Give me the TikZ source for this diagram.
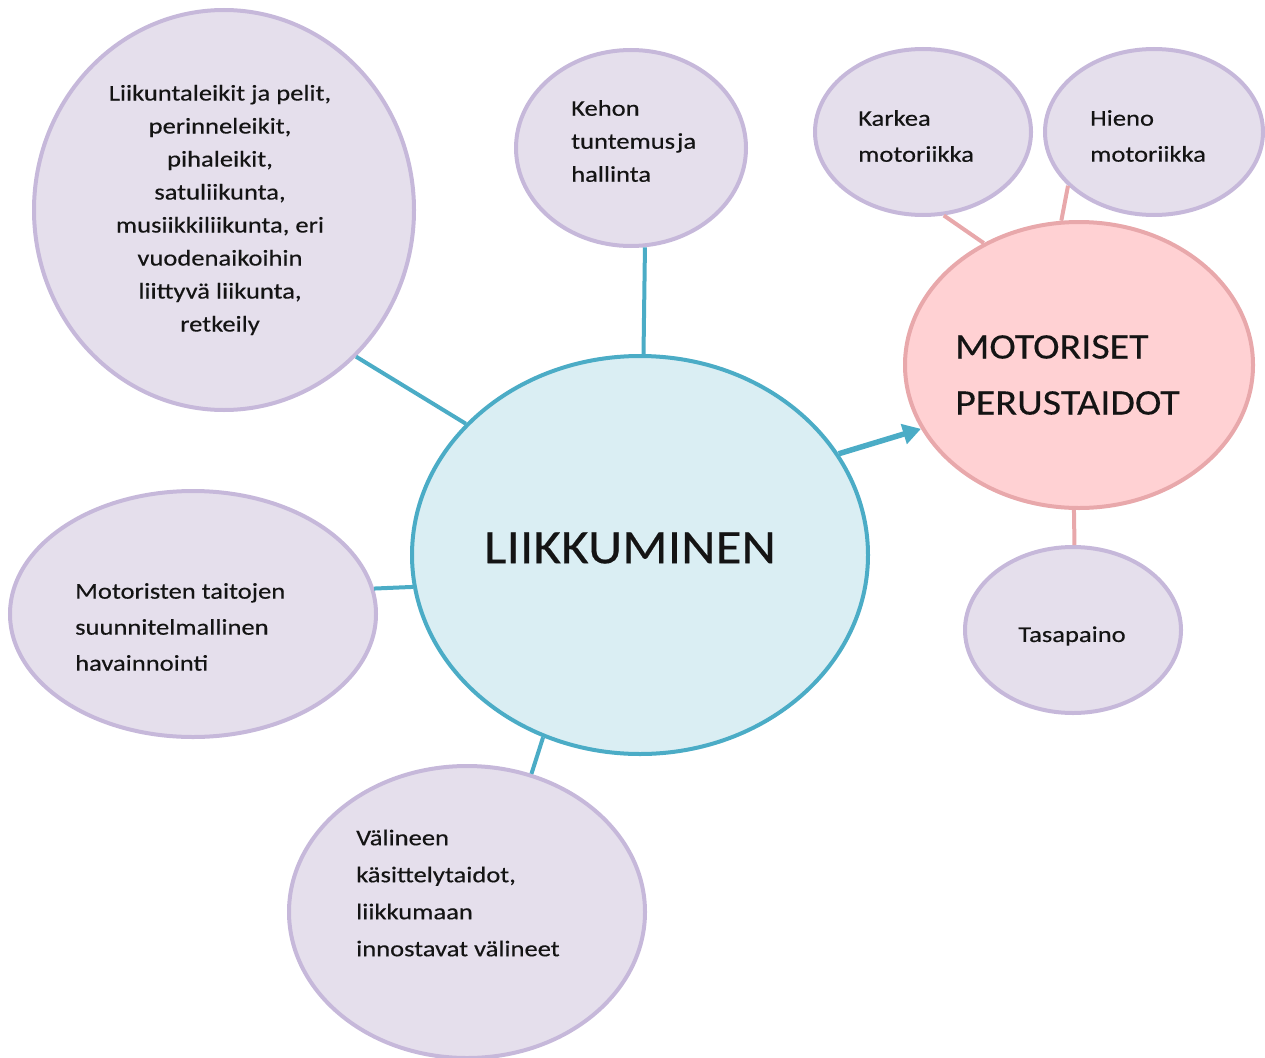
\documentclass[tikz,border=0pt]{standalone}
\usepackage{fontspec}
\setmainfont{Carlito}
\newfontfamily\smallfont[FakeStretch=1.18,FakeBold=0.4]{Carlito}
\newfontfamily\bigfont[FakeStretch=1.11,FakeBold=0.3]{Carlito}
\usetikzlibrary{shapes.geometric,arrows.meta}
\definecolor{lavfill}{HTML}{E5DFEC}
\definecolor{lavdraw}{HTML}{C6B8DA}
\definecolor{tealfill}{HTML}{DAEEF3}
\definecolor{tealdraw}{HTML}{4BACC6}
\definecolor{pinkfill}{HTML}{FFD1D3}
\definecolor{pinkdraw}{HTML}{E8A8AB}
\definecolor{txt}{HTML}{141414}
\tikzset{
  bub/.style={ellipse,draw=lavdraw,fill=lavfill,line width=4pt,inner sep=0pt},
  hub/.style={ellipse,draw=tealdraw,fill=tealfill,line width=4pt,inner sep=0pt},
  pbub/.style={ellipse,draw=pinkdraw,fill=pinkfill,line width=4pt,inner sep=0pt},
  tcon/.style={draw=tealdraw,line width=4pt},
  pcon/.style={draw=pinkdraw,line width=4pt},
  lbl/.style={text=txt,inner sep=0pt,font=\smallfont\fontsize{22.5}{33}\selectfont},
}
\begin{document}
\begin{tikzpicture}[x=1pt,y=-1pt]
\useasboundingbox (0,0) rectangle (1265,1057);
% bubbles
\node[bub,minimum width=380pt,minimum height=400pt] (big) at (224,210) {};
\node[bub,minimum width=230pt,minimum height=196pt] (kehon) at (631,148) {};
\node[bub,minimum width=216pt,minimum height=166pt] (karkea) at (923,132) {};
\node[bub,minimum width=218pt,minimum height=166pt] (hieno) at (1154,132) {};
\node[pbub,minimum width=348pt,minimum height=286pt] (moto) at (1079,365) {};
\node[hub,minimum width=456pt,minimum height=398pt] (hub) at (640,555) {};
\node[bub,minimum width=366pt,minimum height=246pt] (havain) at (193,614) {};
\node[bub,minimum width=216pt,minimum height=166pt] (tasa) at (1073,630) {};
\node[bub,minimum width=356pt,minimum height=292pt] (vali) at (467,912) {};
% connectors
\draw[tcon] (big.-48) -- (hub.143);
\draw[tcon] (kehon.-82) -- (hub.89);
\draw[tcon] (havain.8) -- (hub.188);
\draw[tcon] (vali.65) -- (hub.-118);
\draw[tcon,line width=5.5pt,-{Triangle[length=18pt,width=20pt]}] (hub.27) -- (moto.202);
\draw[pcon] (karkea.-76) -- (moto.128);
\draw[pcon] (hieno.212) -- (moto.97);
\draw[pcon] (tasa.89) -- (moto.-92);
% texts
\node[lbl,align=center] (tbig) at (220,210) {Liikuntaleikit ja pelit,\\perinneleikit,\\pihaleikit,\\satuliikunta,\\musiikkiliikunta, eri\\vuodenaikoihin\\liittyvä liikunta,\\retkeily};
\node[lbl,align=left,anchor=west,font=\smallfont\fontsize{22.5}{33}\selectfont] (tkehon) at (571,141) {Kehon\\tuntemus\hspace{2pt}ja\\hallinta};
\node[lbl,align=left,anchor=west,font=\smallfont\fontsize{22.5}{36}\selectfont] (tkarkea) at (858,136) {Karkea\\motoriikka};
\node[lbl,align=left,anchor=west,font=\smallfont\fontsize{22.5}{36}\selectfont] (thieno) at (1090,136) {Hieno\\motoriikka};
\node[lbl,align=left,anchor=west,font=\bigfont\fontsize{36}{56}\selectfont] (tmoto) at (955,375) {MOTORISET\\PERUSTAIDOT};
\node[lbl,font=\bigfont\fontsize{48}{56}\selectfont] (thub) at (630,548) {LIIKKUMINEN};
\node[lbl,align=left,anchor=west,font=\smallfont\fontsize{22.5}{36}\selectfont] (thavain) at (75,627) {Motoristen taitojen\\suunnitelmallinen\\havainnointi};
\node[lbl] (ttasa) at (1072,636) {Tasapaino};
\node[lbl,align=left,anchor=west,font=\smallfont\fontsize{22.5}{37}\selectfont] (tvali) at (356,893) {Välineen\\käsittelytaidot,\\liikkumaan\\innostavat välineet};
\end{tikzpicture}
\end{document}
